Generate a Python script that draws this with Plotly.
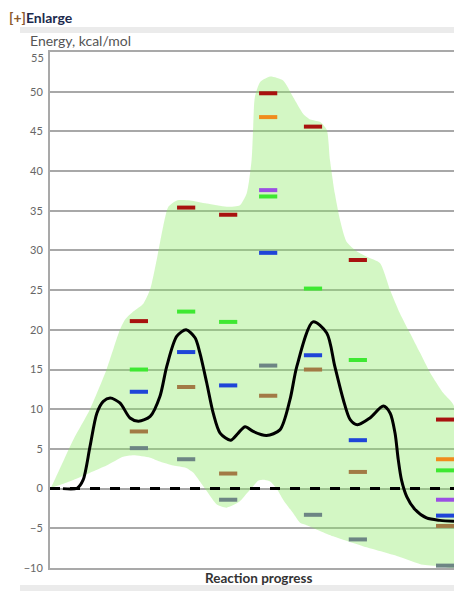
import plotly.graph_objects as go

# ---------------- data ----------------
stage_x = [22.0, 33.7, 44.1, 54.0, 65.1, 76.2, 97.8]

red    = [21.1, 35.4, 34.5, 49.8, 45.6, 28.8, 8.7]
orange = [None, None, None, 46.8, None, None, 3.7]
purple = [None, None, None, 37.6, None, None, -1.4]
green  = [15.0, 22.3, 21.0, 36.8, 25.2, 16.2, 2.3]
blue   = [12.2, 17.2, 13.0, 29.7, 16.8, 6.1, -3.4]
brown  = [7.2, 12.8, 1.9, 11.7, 15.0, 2.1, -4.7]
gray   = [5.1, 3.7, -1.4, 15.5, -3.3, -6.4, -9.7]

curve_x = [3.2, 6.7, 8.2, 9.9, 11.6, 13.2, 14.9, 17.3, 19.8, 21.9, 24.8, 27.2, 28.9,
           31.4, 33.7, 35.9, 37.1, 38.8, 40.4, 42.1, 44.7, 46.6, 48.3, 50.3, 53.6,
           56.9, 59.4, 61.1, 65.1, 68.5, 70.5, 72.6, 74.3, 76.1, 79.2, 82.5, 84.2,
           85.4, 86.2, 87.0, 88.3, 90.3, 93.2, 96.5, 100.0]
curve_y = [0.0, 0.05, 1.1, 5.3, 9.5, 11.0, 11.4, 10.8, 8.9, 8.5, 9.1, 11.6, 15.4,
           19.2, 20.0, 19.0, 17.1, 13.3, 9.5, 7.0, 6.1, 7.0, 7.8, 7.2, 6.7,
           7.4, 11.2, 15.4, 21.0, 19.6, 15.4, 11.2, 8.7, 8.05, 8.9, 10.4, 9.5,
           7.0, 3.65, 1.1, -1.0, -2.6, -3.7, -4.0, -4.1]

upper_x = [0.0, 0.4, 5.8, 9.9, 14.0, 17.3, 18.6, 20.6, 23.1, 24.8, 26.4, 28.0, 29.3,
           31.4, 34.7, 38.8, 43.7, 47.0, 48.7, 49.9, 50.3, 50.7, 52.0, 54.5, 57.7,
           60.2, 62.7, 64.4, 66.8, 68.5, 69.3, 70.5, 71.8, 73.4, 75.9, 78.4, 81.7,
           84.2, 86.6, 89.1, 91.6, 94.1, 97.4, 100.0]
upper_y = [0.0, 0.3, 6.2, 10.0, 15.0, 20.0, 21.3, 22.3, 23.3, 25.1, 28.8, 33.0, 35.5,
           36.3, 36.3, 35.9, 35.5, 35.7, 37.2, 41.4, 45.6, 49.3, 51.2, 51.9, 51.4,
           49.3, 47.2, 46.5, 46.2, 45.2, 41.4, 37.2, 33.8, 31.1, 29.9, 29.2, 28.4,
           25.0, 22.1, 19.6, 17.1, 14.6, 12.0, 10.4]
lower_x = [100.0, 97.4, 92.4, 86.6, 78.4, 70.1, 63.5, 61.9, 60.2, 57.7, 56.1, 54.5,
           53.2, 51.5, 50.3, 48.9, 47.0, 43.7, 41.3, 38.8, 37.1, 35.5, 33.7, 30.5,
           27.2, 24.8, 20.6, 18.1, 14.0, 9.9, 5.8, 0.4, 0.0]
lower_y = [-10.0, -9.8, -9.6, -8.6, -7.4, -6.0, -4.6, -4.3, -3.1, -1.4, 0.0, 0.9,
           1.1, 1.0, 0.3, -0.5, -1.6, -2.4, -2.0, -0.3, 0.9, 2.0, 2.6, 2.9,
           3.4, 3.9, 4.2, 4.0, 2.9, 2.0, 1.1, 0.1, 0.0]

y_ticks = [-10, -5, 0, 5, 10, 15, 20, 25, 30, 35, 40, 45, 50]
top_tick = 55

series = [
    ("red", red, "#a8120f"),
    ("orange", orange, "#f08c1c"),
    ("purple", purple, "#9b4fe3"),
    ("green", green, "#3ee832"),
    ("blue", blue, "#1f45d8"),
    ("brown", brown, "#a27a45"),
    ("gray", gray, "#6d8584"),
]

# ---------------- figure ----------------
fig = go.Figure()

fig.add_trace(go.Scatter(
    x=upper_x + lower_x, y=upper_y + lower_y,
    mode="lines", fill="toself", fillcolor="rgba(140,235,100,0.38)",
    line=dict(width=0, shape="spline", smoothing=0.6),
    hoverinfo="skip", showlegend=False))

for name, vals, col in series:
    fig.add_trace(go.Scatter(
        x=stage_x, y=vals, mode="markers", name=name, showlegend=False,
        marker=dict(symbol="line-ew", size=13, color=col,
                    line=dict(color=col, width=4))))

fig.add_hline(y=0, line=dict(color="black", width=3, dash="10px,10px"))

fig.add_trace(go.Scatter(
    x=curve_x, y=curve_y, mode="lines",
    line=dict(color="black", width=3, shape="spline", smoothing=0.8),
    showlegend=False, hoverinfo="skip"))

W, H = 454, 591
L, R, T, B = 50, 0, 52, 23
pw, ph = W - L - R, H - T - B

def px(xp):
    return (xp - L) / pw

def py(yp):
    return (H - B - yp) / ph

border = "#ebebeb"
fig.update_layout(
    width=W, height=H,
    margin=dict(l=L, r=R, t=T, b=B),
    paper_bgcolor="white", plot_bgcolor="white",
    font=dict(family="Lato, sans-serif", color="#666"),
    xaxis=dict(range=[0, 100], showticklabels=False, showgrid=False, zeroline=False,
               showline=True, mirror=True, linecolor="#a9a9a9", linewidth=2, ticks=""),
    yaxis=dict(range=[-10, 55], tickvals=y_ticks, showgrid=True, gridcolor="#a8a8a8",
               gridwidth=1.5, zeroline=False, showline=True, linecolor="#a9a9a9",
               linewidth=2, ticks="", tickfont=dict(size=11, color="#666"),
               ticklabelstandoff=3),
    shapes=[
        dict(type="rect", xref="paper", yref="paper", x0=px(20), x1=px(26),
             y0=py(H + 5), y1=py(27), fillcolor=border, line=dict(width=0), layer="above"),
        dict(type="rect", xref="paper", yref="paper", x0=px(20), x1=1.1,
             y0=py(33), y1=py(27), fillcolor=border, line=dict(width=0), layer="above"),
        dict(type="rect", xref="paper", yref="paper", x0=px(20), x1=1.1,
             y0=py(H + 5), y1=py(585), fillcolor=border, line=dict(width=0), layer="above"),
    ],
    annotations=[
        dict(text="<b><span style='color:#8b5a2b'>[+]</span>Enlarge</b>", xref="paper", yref="paper",
             x=px(7), y=py(17), xanchor="left", yanchor="middle", showarrow=False,
             font=dict(size=14, color="#1c2a4d", family="Lato, sans-serif")),
        dict(text="Energy, kcal/mol", xref="paper", yref="paper",
             x=px(28), y=py(41), xanchor="left", yanchor="middle", showarrow=False,
             font=dict(size=14, color="#555")),
        dict(text=str(top_tick), xref="paper", yref="paper",
             x=px(46), y=py(57), xanchor="right", yanchor="middle", showarrow=False,
             font=dict(size=11, color="#666")),
        dict(text="<b>Reaction progress</b>", xref="paper", yref="paper",
             x=px(258), y=py(578), xanchor="center", yanchor="middle", showarrow=False,
             font=dict(size=13.5, color="#333")),
    ],
)

fig.write_html("out.html")
